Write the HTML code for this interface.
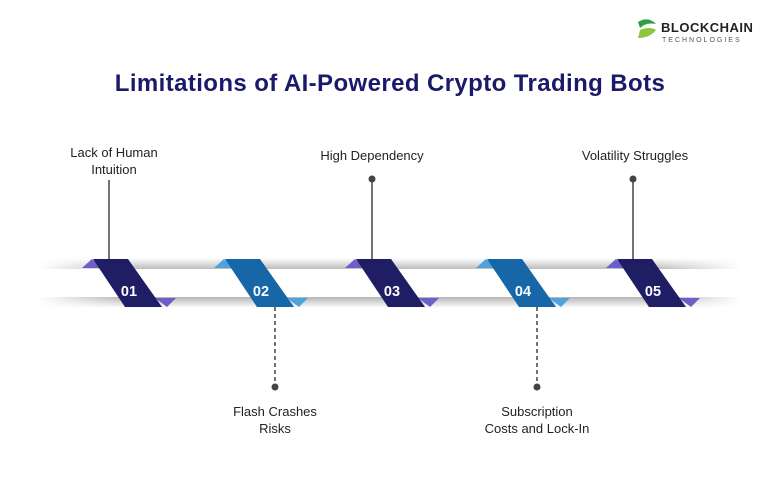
<!DOCTYPE html>
<html><head><style>
body{margin:0;width:780px;height:480px;background:#fff;font-family:"Liberation Sans",sans-serif;overflow:hidden;position:relative}
.t{position:absolute;font-size:13px;color:#222;text-align:center}
</style></head><body>
<svg width="780" height="480" style="position:absolute;left:0;top:0">
<defs>
<linearGradient id="h" x1="0" x2="1">
<stop offset="0" stop-color="#fff" stop-opacity="1"/><stop offset="0.12" stop-color="#fff" stop-opacity="0"/>
<stop offset="0.88" stop-color="#fff" stop-opacity="0"/><stop offset="1" stop-color="#fff" stop-opacity="1"/></linearGradient>
<linearGradient id="up" x1="0" y1="0" x2="0" y2="1"><stop offset="0" stop-color="#fff"/><stop offset="1" stop-color="#bdbdbd"/></linearGradient>
<linearGradient id="dn" x1="0" y1="0" x2="0" y2="1"><stop offset="0" stop-color="#b5b5b5"/><stop offset="1" stop-color="#fff"/></linearGradient>
</defs>
<rect x="40" y="258" width="700" height="11" fill="url(#up)"/>
<rect x="40" y="297" width="700" height="11" fill="url(#dn)"/>
<rect x="38" y="255" width="704" height="56" fill="url(#h)"/>
<g stroke="#444" stroke-width="1.5">
<line x1="109" y1="180" x2="109" y2="259"/>
<line x1="372" y1="179" x2="372" y2="259"/>
<line x1="633" y1="179" x2="633" y2="259"/>
<line x1="275" y1="307" x2="275" y2="386" stroke-dasharray="4,3"/>
<line x1="537" y1="307" x2="537" y2="386" stroke-dasharray="4,3"/>
</g>
<g fill="#444"><circle cx="372" cy="179" r="3.5"/><circle cx="633" cy="179" r="3.5"/><circle cx="275" cy="387" r="3.5"/><circle cx="537" cy="387" r="3.5"/></g>
<g transform="translate(128,0)">
<polygon points="-46,268 -36,259 -26,268" fill="#6c5fc7"/>
<polygon points="27,298 48,298 39,307" fill="#6c5fc7"/>
<polygon points="-35,259 0,259 34,307 -3,307" fill="#1f1d63"/>
</g>
<g transform="translate(260,0)">
<polygon points="-46,268 -36,259 -26,268" fill="#4fa3db"/>
<polygon points="27,298 48,298 39,307" fill="#4fa3db"/>
<polygon points="-35,259 0,259 34,307 -3,307" fill="#1766a8"/>
</g>
<g transform="translate(391,0)">
<polygon points="-46,268 -36,259 -26,268" fill="#6c5fc7"/>
<polygon points="27,298 48,298 39,307" fill="#6c5fc7"/>
<polygon points="-35,259 0,259 34,307 -3,307" fill="#1f1d63"/>
</g>
<g transform="translate(522,0)">
<polygon points="-46,268 -36,259 -26,268" fill="#4fa3db"/>
<polygon points="27,298 48,298 39,307" fill="#4fa3db"/>
<polygon points="-35,259 0,259 34,307 -3,307" fill="#1766a8"/>
</g>
<g transform="translate(652,0)">
<polygon points="-46,268 -36,259 -26,268" fill="#6c5fc7"/>
<polygon points="27,298 48,298 39,307" fill="#6c5fc7"/>
<polygon points="-35,259 0,259 34,307 -3,307" fill="#1f1d63"/>
</g>
<g fill="#fff" font-family="Liberation Sans" font-weight="bold" font-size="14.5" text-anchor="middle">
<text x="129" y="296">01</text><text x="261" y="296">02</text><text x="392" y="296">03</text><text x="523" y="296">04</text><text x="653" y="296">05</text>
</g>
<g transform="translate(636,18)">
<path d="M2,4 Q12,-2 20,6 Q10,4 4,10 Z" fill="#2e9e3e"/>
<path d="M4,12 Q14,8 20,12 Q14,20 2,20 Z" fill="#8cc63f"/>
</g>
<text x="661" y="32" font-family="Liberation Sans" font-weight="bold" font-size="13" fill="#222" letter-spacing="0.5">BLOCKCHAIN</text>
<text x="662" y="42" font-family="Liberation Sans" font-size="7" fill="#555" letter-spacing="2">TECHNOLOGIES</text>
</svg>
<div style="position:absolute;left:0;width:780px;top:70px;text-align:center;font-size:24px;letter-spacing:0.4px;font-weight:bold;color:#1a1a6b">Limitations of AI-Powered Crypto Trading Bots</div>
<div class="t" style="left:44px;width:140px;top:144px;line-height:17px">Lack of Human<br>Intuition</div>
<div class="t" style="left:292px;width:160px;top:148px">High Dependency</div>
<div class="t" style="left:555px;width:160px;top:148px">Volatility Struggles</div>
<div class="t" style="left:200px;width:150px;top:403px;line-height:17px">Flash Crashes<br>Risks</div>
<div class="t" style="left:457px;width:160px;top:403px;line-height:17px">Subscription<br>Costs and Lock-In</div>
</body></html>
